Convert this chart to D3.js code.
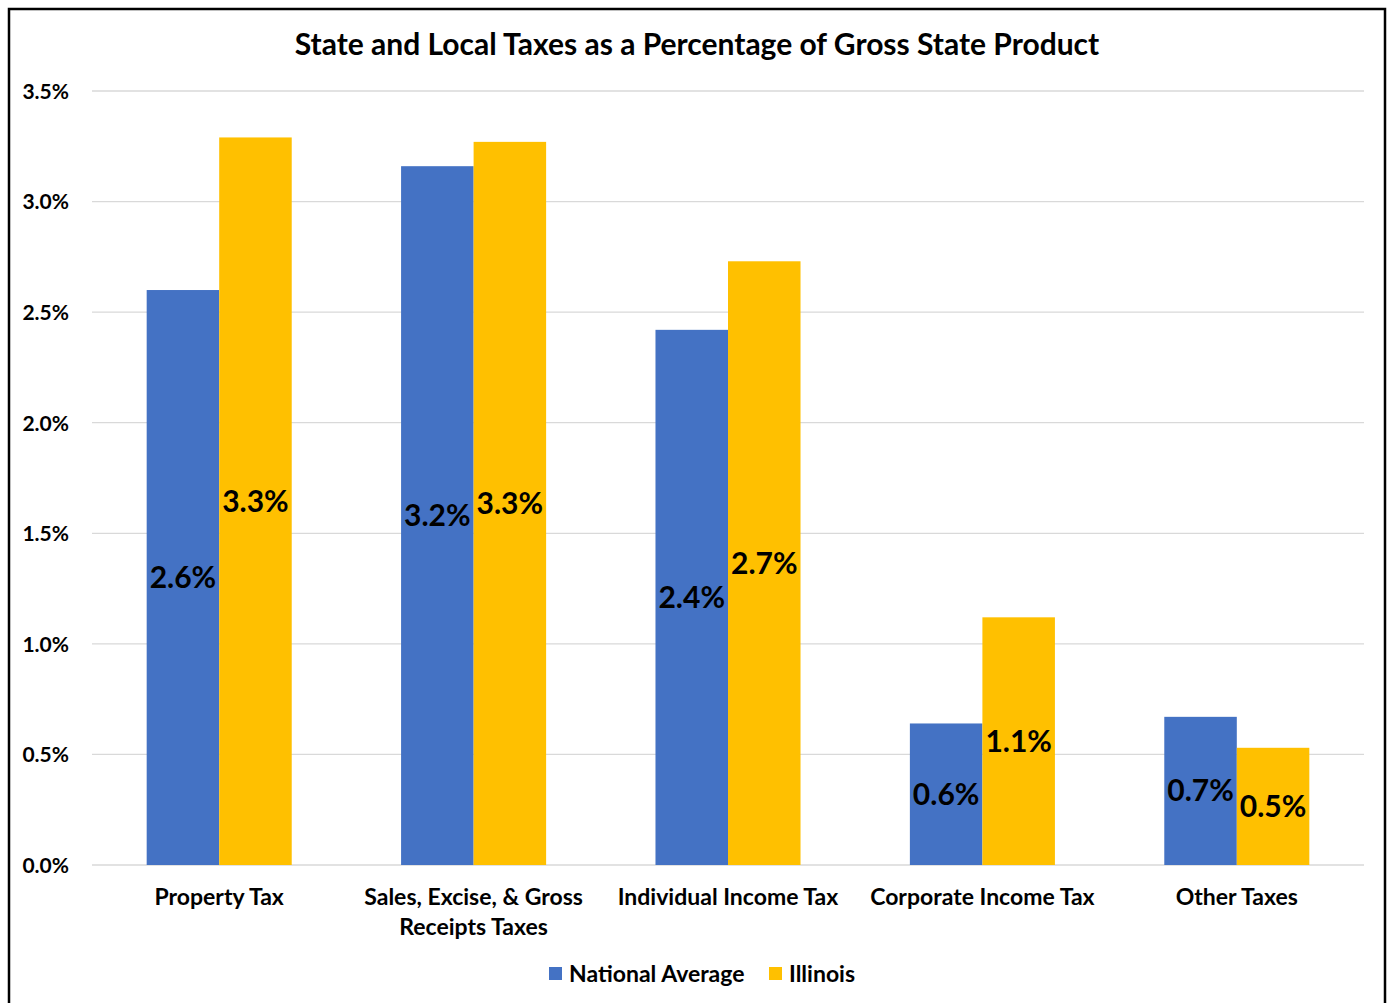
<!DOCTYPE html>
<html>
<head>
<meta charset="utf-8">
<script src="https://cdn.jsdelivr.net/npm/d3@7"></script>
<style>
  body { margin: 0; background: #fff; }
  svg text { font-family: Lato, "Noto Sans", sans-serif; font-weight: bold; fill: #000; }
</style>
</head>
<body>
<svg id="chart"></svg>
<script>
// data
var categories = ['Property Tax', 'Sales, Excise, & Gross Receipts Taxes', 'Individual Income Tax', 'Corporate Income Tax', 'Other Taxes'];
var categoryLines = [['Property Tax'], ['Sales, Excise, & Gross', 'Receipts Taxes'], ['Individual Income Tax'], ['Corporate Income Tax'], ['Other Taxes']];
var series = ['National Average', 'Illinois'];
var national = [2.60, 3.16, 2.42, 0.64, 0.67];
var illinois = [3.29, 3.27, 2.73, 1.12, 0.53];
var yTicks = [0, 0.5, 1.0, 1.5, 2.0, 2.5, 3.0, 3.5];

var colors = ['#4472C4', '#FFC000'];
var W = 1388, H = 1003;

var svg = d3.select('#chart').attr('width', W).attr('height', H);

// frame
svg.append('rect')
    .attr('x', 9).attr('y', 9)
    .attr('width', 1376).attr('height', 1010)
    .attr('fill', 'none')
    .attr('stroke', '#000')
    .attr('stroke-width', 2.5);

var x0 = d3.scaleBand().domain(categories).range([92, 1364]);
var x1 = d3.scaleBand().domain(series).range([0, x0.bandwidth()]).paddingOuter(0.754);
var ys = d3.scaleLinear().domain([0, 3.5]).range([865, 91]);

// gridlines
svg.append('g')
    .selectAll('line')
    .data(yTicks)
    .enter()
    .append('line')
    .attr('x1', 92).attr('x2', 1364)
    .attr('y1', function(d) { return ys(d); })
    .attr('y2', function(d) { return ys(d); })
    .attr('stroke', '#d9d9d9')
    .attr('stroke-width', 1.3);

// y axis
var yAxis = svg.append('g')
    .attr('transform', 'translate(69,0)')
    .call(d3.axisLeft(ys).tickValues(yTicks).tickSize(0).tickPadding(0)
        .tickFormat(function(d) { return d.toFixed(1) + '%'; }));
yAxis.select('.domain').remove();
yAxis.selectAll('text').style('font-size', '21px').attr('dy', '0.35em');

// bars
var rows = categories.map(function(c, i) {
    return {cat: c, vals: [{s: series[0], v: national[i]}, {s: series[1], v: illinois[i]}]};
});

var groups = svg.append('g')
    .selectAll('g')
    .data(rows)
    .enter()
    .append('g')
    .attr('transform', function(d) { return 'translate(' + x0(d.cat) + ',0)'; });

groups.selectAll('rect')
    .data(function(d) { return d.vals; })
    .enter()
    .append('rect')
    .attr('x', function(d) { return x1(d.s); })
    .attr('width', x1.bandwidth())
    .attr('y', function(d) { return ys(d.v); })
    .attr('height', function(d) { return ys(0) - ys(d.v); })
    .attr('fill', function(d, i) { return colors[i]; });

groups.selectAll('text.lbl')
    .data(function(d) { return d.vals; })
    .enter()
    .append('text')
    .attr('class', 'lbl')
    .attr('x', function(d) { return x1(d.s) + x1.bandwidth() / 2; })
    .attr('y', function(d) { return (ys(d.v) + ys(0)) / 2; })
    .attr('dy', '0.35em')
    .attr('text-anchor', 'middle')
    .style('font-size', '30px')
    .text(function(d) { return d.v.toFixed(1) + '%'; });

// category labels
svg.append('g')
    .selectAll('text')
    .data(categories)
    .enter()
    .append('text')
    .attr('x', function(d) { return x0(d) + x0.bandwidth() / 2; })
    .attr('y', 905)
    .attr('text-anchor', 'middle')
    .style('font-size', '23px')
    .each(function(d, i) {
        var t = d3.select(this);
        categoryLines[i].forEach(function(line, j) {
            t.append('tspan')
                .attr('x', x0(d) + x0.bandwidth() / 2)
                .attr('dy', j === 0 ? 0 : 30)
                .text(line);
        });
    });

// title
svg.append('text')
    .attr('x', 697)
    .attr('y', 55)
    .attr('text-anchor', 'middle')
    .style('font-size', '30px')
    .text('State and Local Taxes as a Percentage of Gross State Product');

// legend
var legend = svg.append('g');
var legendX = [549, 769];
series.forEach(function(s, i) {
    legend.append('rect')
        .attr('x', legendX[i]).attr('y', 967)
        .attr('width', 13).attr('height', 13)
        .attr('fill', colors[i]);
    legend.append('text')
        .attr('x', legendX[i] + 20)
        .attr('y', 982)
        .style('font-size', '23px')
        .text(s);
});
</script>
</body>
</html>
